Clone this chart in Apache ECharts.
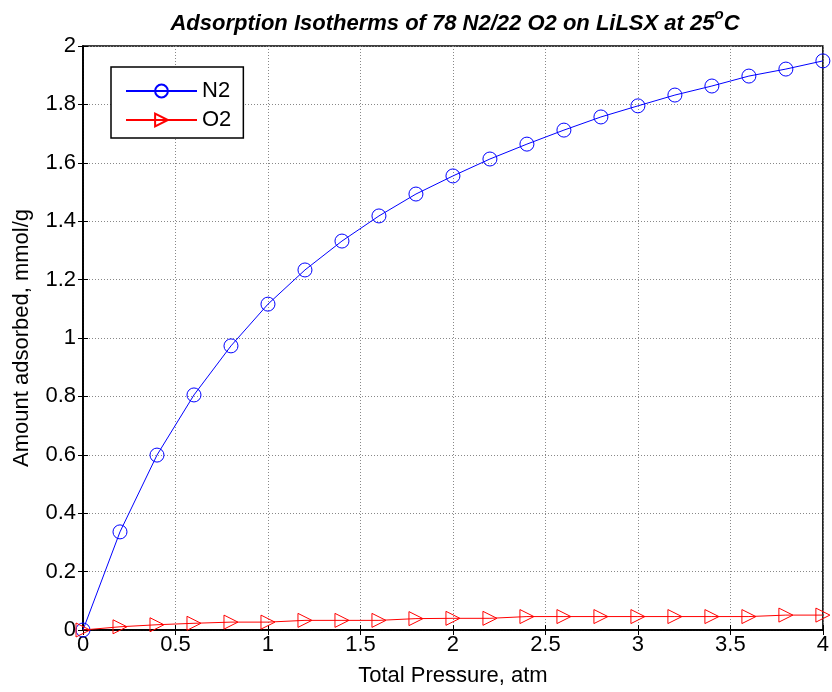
<!DOCTYPE html>
<html>
<head>
<meta charset="utf-8">
<script src="https://cdn.jsdelivr.net/npm/echarts@6/dist/echarts.min.js"></script>
<style>
  html, body { margin: 0; padding: 0; background: #fff; }
  #chart { width: 832px; height: 692px; }
</style>
</head>
<body>
<div id="chart"></div>
<script>
// Total pressure (atm)
const pressure = [0, 0.2, 0.4, 0.6, 0.8, 1.0, 1.2, 1.4, 1.6, 1.8, 2.0,
                  2.2, 2.4, 2.6, 2.8, 3.0, 3.2, 3.4, 3.6, 3.8, 4.0];
// Adsorbed amounts (mmol/g)
const n2 = [0, 0.336, 0.599, 0.805, 0.973, 1.116, 1.233, 1.332, 1.418, 1.493, 1.555,
            1.613, 1.664, 1.712, 1.757, 1.795, 1.832, 1.863, 1.897, 1.921, 1.949];
const o2 = [0, 0.011, 0.018, 0.023, 0.027, 0.027, 0.033, 0.033, 0.033, 0.039, 0.040,
            0.040, 0.046, 0.046, 0.046, 0.046, 0.046, 0.046, 0.046, 0.051, 0.051];

const seriesNames = ['N2', 'O2'];

const font = 'Arial, "Liberation Sans", sans-serif';
const pairs = (ys) => pressure.map((x, i) => [x, ys[i]]);

const chart = echarts.init(document.getElementById('chart'), null, { renderer: 'canvas' });

const tickStyle = { show: true, inside: true, length: 5, lineStyle: { color: '#000', width: 1 } };
const gridLine = { show: true, lineStyle: { color: '#888', type: [1, 2], width: 1 } };

chart.setOption({
  backgroundColor: '#fff',
  animation: false,
  title: {
    text: 'Adsorption Isotherms of 78 N2/22 O2 on LiLSX at 25{sup|o}C',
    left: 450, top: 2, textAlign: 'center',
    textStyle: {
      fontFamily: font, fontSize: 22, fontWeight: 'bold', fontStyle: 'italic', color: '#000',
      lineHeight: 34,
      rich: {
        sup: { fontFamily: font, fontSize: 15, fontWeight: 'bold', fontStyle: 'italic',
               color: '#000', verticalAlign: 'top', lineHeight: 22 }
      }
    }
  },
  legend: {
    data: seriesNames,
    orient: 'vertical',
    left: 111, top: 67,
    padding: [13, 12, 7, 14],
    itemGap: 7,
    itemWidth: 71, itemHeight: 16,
    borderColor: '#000', borderWidth: 1.5, backgroundColor: '#fff',
    textStyle: { fontFamily: font, fontSize: 22, color: '#000' }
  },
  grid: {
    left: 83, right: 6, top: 46, bottom: 62,
    show: true, borderColor: '#000', borderWidth: 1.5, backgroundColor: 'transparent'
  },
  xAxis: [{
    type: 'value', min: 0, max: 4, interval: 0.5,
    name: 'Total Pressure, atm', nameLocation: 'middle', nameGap: 35,
    nameTextStyle: { fontFamily: font, fontSize: 22, color: '#000' },
    axisLine: { show: true, onZero: false, lineStyle: { color: '#000', width: 1.5 } },
    axisTick: tickStyle,
    axisLabel: { fontFamily: font, fontSize: 22, color: '#000', margin: 4,
                 formatter: (v) => String(v) },
    splitLine: gridLine
  }, {
    type: 'value', position: 'top', min: 0, max: 4, interval: 0.5,
    axisLine: { show: true, lineStyle: { color: '#000', width: 1.5 } },
    axisTick: tickStyle, axisLabel: { show: false }, splitLine: { show: false }
  }],
  yAxis: [{
    type: 'value', min: 0, max: 2, interval: 0.2,
    name: 'Amount adsorbed, mmol/g', nameLocation: 'middle', nameGap: 50,
    nameTextStyle: { fontFamily: font, fontSize: 22, color: '#000' },
    axisLine: { show: true, onZero: false, lineStyle: { color: '#000', width: 1.5 } },
    axisTick: tickStyle,
    axisLabel: { fontFamily: font, fontSize: 22, color: '#000', margin: 7,
                 formatter: (v) => String(Math.round(v * 10) / 10) },
    splitLine: gridLine
  }, {
    type: 'value', position: 'right', min: 0, max: 2, interval: 0.2,
    axisLine: { show: true, lineStyle: { color: '#000', width: 1.5 } },
    axisTick: tickStyle, axisLabel: { show: false }, splitLine: { show: false }
  }],
  series: [{
    name: 'N2', type: 'line', data: pairs(n2),
    symbol: 'path://M50,0 A50,50 0 1,1 49.99,0 Z', symbolSize: 14,
    showAllSymbol: true,
    lineStyle: { color: '#0000ff', width: 1 },
    itemStyle: { color: 'rgba(0,0,0,0)', borderColor: '#0000ff', borderWidth: 1 },
    emphasis: { disabled: true }, z: 3
  }, {
    name: 'O2', type: 'line', data: pairs(o2),
    symbol: 'path://M0,0 L100,50 L0,100 Z', symbolSize: [14, 14],
    showAllSymbol: true,
    lineStyle: { color: '#ff0000', width: 1 },
    itemStyle: { color: 'rgba(0,0,0,0)', borderColor: '#ff0000', borderWidth: 1 },
    emphasis: { disabled: true }, z: 4
  }]
});
</script>
</body>
</html>
